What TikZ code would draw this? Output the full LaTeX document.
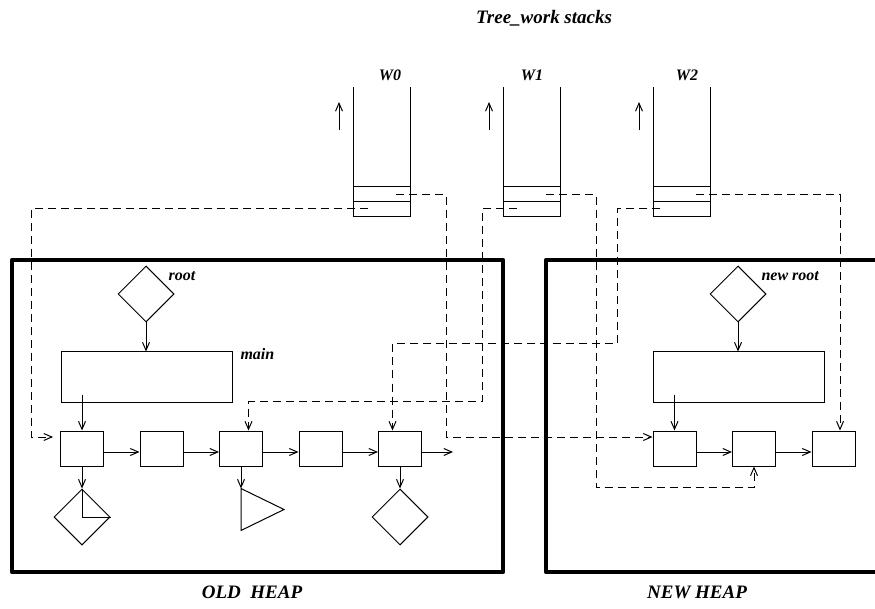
\documentclass[tikz,border=0pt]{standalone}
\usepackage{fontspec}
\setmainfont{Liberation Serif}
\usetikzlibrary{arrows.meta, shapes.geometric, positioning, calc}
\tikzset{
  cell/.style   = {draw, line width=1pt, minimum width=43pt,
                   minimum height=35pt, inner sep=0pt},
  slab/.style   = {draw, line width=1pt, minimum width=171pt,
                   minimum height=50pt, inner sep=0pt},
  gem/.style    = {draw, diamond, line width=1pt, minimum size=56pt,
                   inner sep=0pt},
  arr/.style    = {-{Straight Barb[length=8pt,width=7pt]}, line width=1pt},
  darr/.style   = {arr, dash pattern=on 8pt off 5pt},
  heap/.style   = {line width=4.5pt, line join=round},
  labl/.style   = {font=\fontsize{16}{18}\selectfont\bfseries\itshape},
  title/.style  = {font=\fontsize{19}{21}\selectfont\bfseries\itshape},
  hlab/.style   = {font=\fontsize{19}{21}\selectfont\bfseries\itshape},
}
\begin{document}
\begin{tikzpicture}[x=1pt, y=-1pt]
  \useasboundingbox (0,0) rectangle (875,609);

  % work stacks
  \node[title] (ttl) at (544,18) {Tree\_work stacks};
  \foreach \x in {381.5,531.5,681.5} {
    \draw[line width=1pt] (\x-28.5,87) -- (\x-28.5,217) -- (\x+28.5,217) -- (\x+28.5,87);
    \draw[line width=1pt] (\x-28.5,187) -- ++(57,0);
    \draw[line width=1pt] (\x-28.5,202) -- ++(57,0);
    \draw[arr] (\x-42.5,130) -- (\x-42.5,102);
  }
  \node[labl] (w0) at (390,75) {W0};
  \node[labl] (w1) at (532,75) {W1};
  \node[labl] (w2) at (687,75) {W2};
  \coordinate (w0u) at (396,195);
  \coordinate (w0l) at (368,209);
  \coordinate (w1u) at (546,195);
  \coordinate (w1l) at (517,209);
  \coordinate (w2u) at (696,195);
  \coordinate (w2l) at (660,209);

  % old heap
  \node[gem] (oroot) at (146,294) {};
  \node[labl, anchor=west] at (165,276) {root};
  \node[slab] (omain) at (146.5,377) {};
  \node[labl, anchor=west] at (237,354) {main};
  \node[cell] (ob1) at (82,448.5) {};
  \node[cell, right=35.5pt of ob1] (ob2) {};
  \node[cell, right=35.5pt of ob2] (ob3) {};
  \node[cell, right=35.5pt of ob3] (ob4) {};
  \node[cell, right=35.5pt of ob4] (ob5) {};
  \coordinate (oend) at (453,452);
  \node[gem, below=22pt of ob1] (od1) {};
  \node[gem, below=22pt of ob5] (od5) {};
  \coordinate (otri) at ($(ob3.south)+(0,22)$);
  \draw[line width=1pt] (otri) -- ++(0,42) -- ++(43,-21) -- cycle;
  \draw[line width=1pt] (od1.north) -- (od1.center) -- (od1.east);

  \draw[arr] (oroot.south) -- (oroot.south |- omain.north);
  \draw[arr] ($(ob1.north |- omain.south)+(0,-8)$) -- (ob1.north);
  \draw[arr] ([yshift=-3.5pt]ob1.east) -- ([yshift=-3.5pt]ob2.west);
  \draw[arr] ([yshift=-3.5pt]ob2.east) -- ([yshift=-3.5pt]ob3.west);
  \draw[arr] ([yshift=-3.5pt]ob3.east) -- ([yshift=-3.5pt]ob4.west);
  \draw[arr] ([yshift=-3.5pt]ob4.east) -- ([yshift=-3.5pt]ob5.west);
  \draw[arr] ([yshift=-3.5pt]ob5.east) -- (oend);
  \draw[arr] (ob1.south) -- (od1.north);
  \draw[arr] (ob3.south) -- (otri);
  \draw[arr] (ob5.south) -- (od5.north);

  % new heap
  \node[gem] (nroot) at (738,294) {};
  \node[labl, anchor=west] at (758,276) {new root};
  \node[slab] (nmain) at (738.5,377) {};
  \node[cell] (nb1) at (674.5,448.5) {};
  \node[cell, right=35.5pt of nb1] (nb2) {};
  \node[cell, right=35.5pt of nb2] (nb3) {};

  \draw[arr] (nroot.south) -- (nroot.south |- nmain.north);
  \draw[arr] ($(nb1.north |- nmain.south)+(0,-8)$) -- (nb1.north);
  \draw[arr] ([yshift=-3.5pt]nb1.east) -- ([yshift=-3.5pt]nb2.west);
  \draw[arr] ([yshift=-3.5pt]nb2.east) -- ([yshift=-3.5pt]nb3.west);

  % stack entries
  \draw[darr, shorten >=7pt] (w0l) -| ($(ob1.west)+(-29,-11.5)$) -- ([yshift=11.5pt]ob1.west);
  \draw[darr] (w0u) -- ++(50,0) |- ([yshift=11.5pt]nb1.west);
  \draw[darr] (w1l) -- ++(-35,0) |- ($(ob3.north)+(7.5,-29)$) -- ([xshift=7.5pt]ob3.north);
  \draw[darr] (w1u) -- ++(50,0) |- ($(nb2.south)+(0,21)$) -- (nb2.south);
  \draw[darr] (w2l) -- ++(-43,0) |- ($(ob5.north)+(-7.5,-87)$) -- ([xshift=-7.5pt]ob5.north);
  \draw[darr] (w2u) -| ([xshift=6.5pt]nb3.north);

  % heaps
  \draw[heap] (12,260) rectangle (503,572);
  \draw[heap] (890,260) -- (546,260) -- (546,572) -- (890,572);
  \node[hlab] (oldh) at (252,592) {OLD\ \ HEAP};
  \node[hlab] (newh) at (697,592) {NEW HEAP};

\end{tikzpicture}
\end{document}
